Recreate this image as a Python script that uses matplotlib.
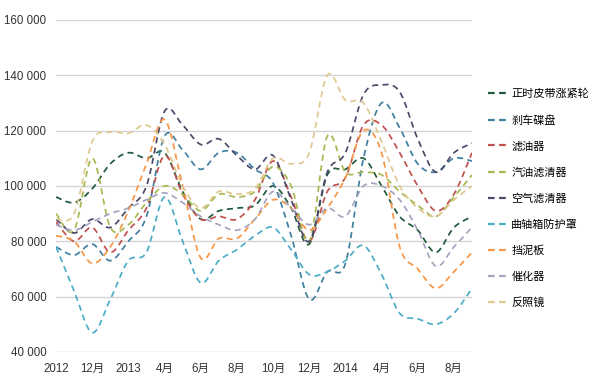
import numpy as np
import matplotlib
matplotlib.use('Agg')
import matplotlib.pyplot as plt
from matplotlib.path import Path
from matplotlib.patches import PathPatch
from matplotlib.lines import Line2D
from matplotlib.ticker import FuncFormatter

plt.rcParams['font.family'] = ['Liberation Sans', 'Noto Sans CJK SC', 'DejaVu Sans']

# monthly, Oct 2012 .. Sep 2014 (values in thousands)
tick_pos = [0, 2, 4, 6, 8, 10, 12, 14, 16, 18, 20, 22]
tick_labels = ['2012', '12月', '2013', '4月', '6月', '8月', '10月', '12月', '2014', '4月', '6月', '8月']

names = ['正时皮带涨紧轮', '刹车碟盘', '滤油器', '汽油滤清器', '空气滤清器',
         '曲轴箱防护罩', '挡泥板', '催化器', '反照镜']

zhengshi = [96, 94, 99, 108, 112, 110, 112, 98, 88, 91, 92, 93,
            100, 92, 79, 104, 106, 110, 100, 89, 84, 76, 85, 89]
shache = [78, 75, 79, 73, 80, 89, 118, 113, 106, 112, 112, 106,
          101, 82, 59, 69, 72, 110, 130, 121, 108, 105, 110, 109]
lvyou = [87, 80, 85, 76, 84, 92, 111, 97, 88, 89, 88, 95,
         109, 96, 80, 98, 103, 122, 122, 112, 100, 91, 97, 112]
qiyou = [90, 84, 110, 85, 86, 94, 100, 97, 91, 97, 96, 98,
         107, 100, 80, 118, 105, 105, 104, 98, 93, 89, 96, 104]
kongqi = [88, 83, 88, 85, 92, 100, 127, 122, 115, 117, 111, 106,
          111, 95, 80, 105, 112, 133, 136.5, 134, 117, 105, 112, 115.5]
quzhou = [78, 62, 47, 59, 73, 76, 96, 80, 65, 73, 77, 82,
          85, 77, 68, 69, 73, 78.5, 68, 54, 52, 50, 54, 63]
dangni = [82, 80, 72, 78, 91, 108, 124, 100, 74, 81, 81, 88,
          95, 92, 84, 92, 103, 120, 112, 78, 70, 63, 69, 76]
cuihua = [86, 84, 87, 90, 92, 95, 97.5, 94, 89, 86, 84, 88,
          98, 92, 86, 92, 89, 100, 100, 95, 84, 71, 78, 85]
fanzhao = [88, 90, 116, 119.5, 119, 122, 115, 100, 92, 98, 97, 99,
           110, 108, 112, 140, 131, 130, 116, 100, 92, 89, 95, 100]

colors = ['#1f5a3a', '#3f7f9f', '#c0504d', '#a8b850', '#4a4a6a',
          '#4bacc6', '#f79646', '#a5a5c0', '#e0c890']

series = [zhengshi, shache, lvyou, qiyou, kongqi, quzhou, dangni, cuihua, fanzhao]


def smooth_path(xs, ys):
    # catmull-rom through the points, as cubic bezier segments
    pts = np.column_stack([xs, ys]).astype(float)
    n = len(pts)
    verts = [pts[0]]
    codes = [Path.MOVETO]
    for i in range(n - 1):
        p0 = pts[max(i - 1, 0)]
        p1 = pts[i]
        p2 = pts[i + 1]
        p3 = pts[min(i + 2, n - 1)]
        c1 = p1 + (p2 - p0) / 6.0
        c2 = p2 - (p3 - p1) / 6.0
        verts += [c1, c2, p2]
        codes += [Path.CURVE4] * 3
    return Path(verts, codes)


fig = plt.figure(figsize=(5.9, 3.83), dpi=100)
ax = fig.add_axes([0.095, 0.081, 0.705, 0.867])

x = np.arange(len(zhengshi))
for vals, c in zip(series, colors):
    y = np.array(vals) * 1000
    patch = PathPatch(smooth_path(x, y), fill=False, edgecolor=c, lw=1.25,
                      linestyle=(0, (3.5, 2.5)), capstyle='butt')
    ax.add_patch(patch)

ax.set_xlim(0, 23)
ax.set_ylim(40000, 160000)
ax.set_yticks(np.arange(40000, 160001, 20000))
ax.yaxis.set_major_formatter(FuncFormatter(lambda v, p: '{:,.0f}'.format(v).replace(',', ' ')))
ax.set_xticks(tick_pos)
ax.set_xticklabels(tick_labels)
ax.grid(axis='y', color='#d4d4d4', lw=1)
ax.set_axisbelow(True)
for s in ax.spines.values():
    s.set_visible(False)
ax.tick_params(length=0, labelsize=8.3, colors='#333333')
ax.tick_params(axis='y', pad=7)
ax.tick_params(axis='x', pad=8)

handles = [Line2D([], [], color=c, lw=1.6, linestyle=(0, (3, 2))) for c in colors]
fig.legend(handles, names, loc='upper left', bbox_to_anchor=(0.827, 0.768),
           frameon=False, handlelength=1.6, labelspacing=1.4,
           handletextpad=0.5, borderpad=0, borderaxespad=0,
           prop={'family': ['Noto Sans CJK SC', 'DejaVu Sans'], 'size': 8})

fig.savefig('out.png', dpi=100, facecolor='white')
